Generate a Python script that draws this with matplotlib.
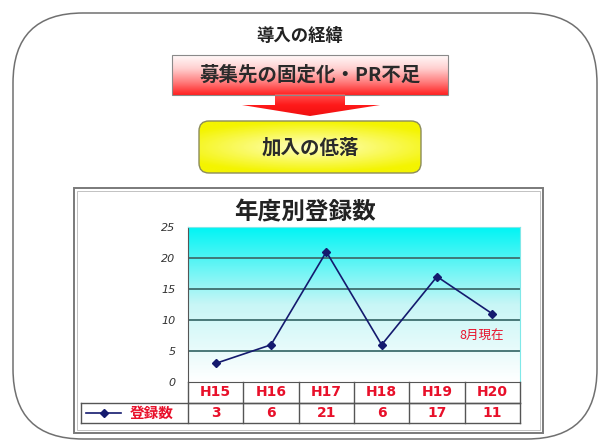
import numpy as np
import matplotlib
matplotlib.use("Agg")
import matplotlib.pyplot as plt
from matplotlib.patches import FancyBboxPatch, Rectangle, Polygon
from matplotlib.colors import LinearSegmentedColormap
from matplotlib.transforms import blended_transform_factory

plt.rcParams['font.family'] = ['Noto Sans CJK JP', 'DejaVu Sans']

# data
years = ["H15", "H16", "H17", "H18", "H19", "H20"]
counts = [3, 6, 21, 6, 17, 11]
series_name = "登録数"
y_ticks = [0, 5, 10, 15, 20, 25]

RED = "#e8102a"
NAVY = "#141a6e"

fig = plt.figure(figsize=(6, 4.41), dpi=100)

# background layer in pixel coordinates (y downwards)
bg = fig.add_axes([0, 0, 1, 1])
bg.set_xlim(0, 600)
bg.set_ylim(441, 0)
bg.axis("off")


def gradient_fill(ax, clip_patch, extent, colors, zorder=2):
    cmap = LinearSegmentedColormap.from_list("g", colors)
    arr = np.linspace(0, 1, 256).reshape(-1, 1)
    im = ax.imshow(arr, cmap=cmap, extent=extent, origin="upper",
                   aspect="auto", zorder=zorder, interpolation="bicubic")
    im.set_clip_path(clip_patch)
    return im


def radial_fill(ax, clip_patch, extent, inner, outer_c, zorder=2):
    cmap = LinearSegmentedColormap.from_list("r", [inner, outer_c])
    gx, gy = np.meshgrid(np.linspace(-1, 1, 200), np.linspace(-1, 1, 60))
    r = np.clip(np.sqrt(gx ** 2 * 0.6 + gy ** 2), 0, 1)
    im = ax.imshow(r, cmap=cmap, extent=extent, origin="upper",
                   aspect="auto", zorder=zorder, interpolation="bicubic")
    im.set_clip_path(clip_patch)
    return im


# outer rounded frame
outer = FancyBboxPatch((13, 13), 584, 426, boxstyle="round,pad=0,rounding_size=70",
                       fc="white", ec="#707070", lw=1.1, zorder=1)
bg.add_patch(outer)

bg.text(300, 36, "導入の経緯", ha="center", va="center", fontsize=12.5,
        fontweight="bold", color="#222222", zorder=5)

# red box with gradient
red_box = Rectangle((172, 55), 276, 40, fc="none", ec="#8a8a8a", lw=0.8, zorder=4)
bg.add_patch(red_box)
clip_red = Rectangle((172, 55), 276, 40, transform=bg.transData)
gradient_fill(bg, clip_red, [172, 448, 95, 55],
              ["#fffafa", "#ffd0d0", "#ff8080", "#ff2020"])
bg.text(310, 75, "募集先の固定化・PR不足", ha="center", va="center", fontsize=14,
        fontweight="bold", color="#2a2a2a", zorder=5)

# arrow below red box
arrow_pts = [(275, 94), (345, 94), (345, 105), (380, 105), (310, 116),
             (242, 105), (275, 105)]
clip_arrow = Polygon(arrow_pts, closed=True, transform=bg.transData)
gradient_fill(bg, clip_arrow, [242, 380, 116, 94], ["#ff5050", "#ff1a1a", "#f01010"])

# yellow rounded box
ybox = FancyBboxPatch((199, 121), 222, 52, boxstyle="round,pad=0,rounding_size=10",
                      fc="none", ec="#8c8c5a", lw=1.0, zorder=4)
bg.add_patch(ybox)
clip_y = FancyBboxPatch((199, 121), 222, 52, boxstyle="round,pad=0,rounding_size=10",
                        transform=bg.transData)
radial_fill(bg, clip_y, [199, 421, 173, 121], "#ffffc0", "#f4f400")
bg.text(310, 148, "加入の低落", ha="center", va="center", fontsize=14,
        fontweight="bold", color="#2a2a2a", zorder=5)

# chart frame (double line)
bg.add_patch(Rectangle((74, 188), 469, 245, fc="white", ec="#7a7a7a", lw=1.4, zorder=2))
bg.add_patch(Rectangle((77, 191), 463, 239, fc="none", ec="#b8b8b8", lw=0.6, zorder=2))
bg.text(305, 212, "年度別登録数", ha="center", va="center", fontsize=17,
        fontweight="bold", color="#222222", zorder=5)

# line chart
ax = fig.add_axes([188 / 600, (441 - 382) / 441, 332 / 600, 155 / 441])
x = np.arange(len(years))
ax.set_xlim(-0.5, len(years) - 0.5)
ax.set_ylim(0, 25)

cmap_bg = LinearSegmentedColormap.from_list("cy", ["#ffffff", "#c8f6f6", "#00f4f4"])
ax.imshow(np.linspace(0, 1, 256).reshape(-1, 1), cmap=cmap_bg, origin="lower",
          extent=[-0.5, len(years) - 0.5, 0, 25], aspect="auto", zorder=0)

for t in y_ticks[1:-1]:
    ax.axhline(t, color="#3e6e6e", lw=1.3, zorder=1)

ax.plot(x, counts, color=NAVY, lw=1.2, marker="D", ms=4.5, mfc=NAVY, mec=NAVY, zorder=3)
ax.text(4.8, 7.3, "8月現在", ha="center", va="center", fontsize=9, color=RED, zorder=4)

ax.set_xticks([])
ax.set_yticks(y_ticks)
ax.set_yticklabels([str(t) for t in y_ticks])
for lab in ax.get_yticklabels():
    lab.set_fontfamily("DejaVu Sans")
    lab.set_fontstyle("oblique")
    lab.set_fontsize(8)
    lab.set_color("#333333")
ax.tick_params(axis="y", length=0, pad=9)
for side in ["top", "right"]:
    ax.spines[side].set_color("#7fe8e8")
    ax.spines[side].set_linewidth(0.8)
ax.spines["left"].set_color("#555555")
ax.spines["bottom"].set_color("#555555")

# data table below the plot
row_h = 20.5 / 155
ta = ax.transAxes
tline = dict(color="#555555", lw=1.0, transform=ta, clip_on=False, zorder=5)
left_cell = (81 - 188) / 332
ax.plot([0, 1], [-row_h, -row_h], **tline)
ax.plot([left_cell, 1], [-row_h, -row_h], **tline)
ax.plot([left_cell, 1], [-2 * row_h, -2 * row_h], **tline)
ax.plot([left_cell, left_cell], [-row_h, -2 * row_h], **tline)
for i in range(len(years) + 1):
    ax.plot([i / len(years)] * 2, [0, -2 * row_h], **tline)

tb = blended_transform_factory(ax.transData, ax.transAxes)
for xi, (yr, c) in enumerate(zip(years, counts)):
    ax.text(xi, -row_h * 0.5, yr, transform=tb, ha="center", va="center",
            fontsize=10, fontweight="bold", color=RED, family="DejaVu Sans", clip_on=False)
    ax.text(xi, -row_h * 1.5, str(c), transform=tb, ha="center", va="center",
            fontsize=10, fontweight="bold", color=RED, family="DejaVu Sans", clip_on=False)

# legend key in the table
ax.plot([(86 - 188) / 332, (121 - 188) / 332], [-row_h * 1.5] * 2, color=NAVY, lw=1.2,
        transform=ta, clip_on=False)
ax.plot([(103.5 - 188) / 332], [-row_h * 1.5], marker="D", ms=4.5, color=NAVY,
        transform=ta, clip_on=False)
ax.text((152 - 188) / 332, -row_h * 1.5, series_name, transform=ta, ha="center",
        va="center", fontsize=10.5, fontweight="bold", color=RED, clip_on=False)

fig.savefig("out.png", dpi=100)
